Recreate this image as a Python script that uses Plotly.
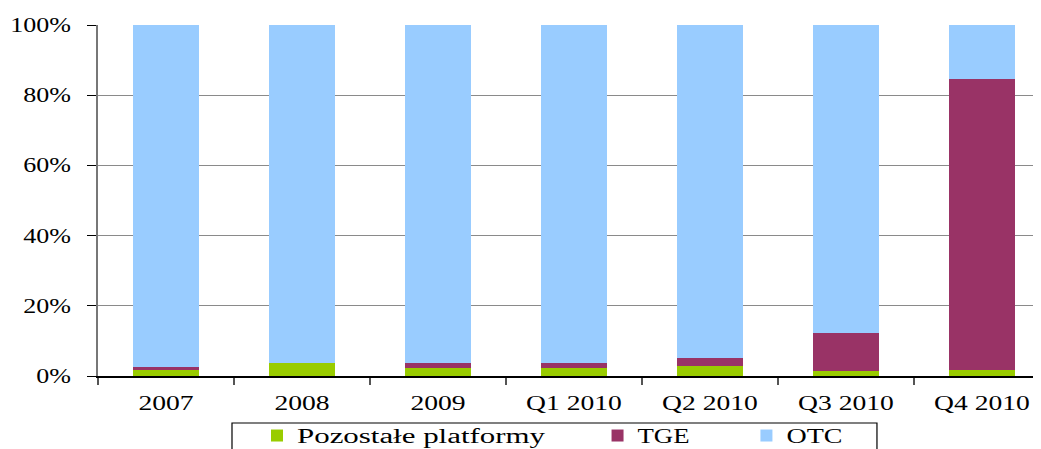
import plotly.graph_objects as go

# categories and shares (%)
periods = ['2007', '2008', '2009', 'Q1 2010', 'Q2 2010', 'Q3 2010', 'Q4 2010']
pozostale = [1.8, 3.8, 2.4, 2.4, 2.9, 1.4, 1.8]
tge = [0.8, 0.0, 1.4, 1.4, 2.3, 10.9, 82.8]
otc = [round(100 - a - b, 1) for a, b in zip(pozostale, tge)]
y_ticks = [0, 20, 40, 60, 80, 100]
y_labels = ['0%', '20%', '40%', '60%', '80%', '100%']

font = 'Liberation Serif, Times New Roman, serif'
nb = '\u00a0'  # padding so legend entries sit apart like in the original (trimmed in js)

fig = go.Figure()
fig.add_trace(go.Bar(x=periods, y=pozostale, name='Pozostałe platformy' + nb * 27,
                     marker=dict(color='#99CC00', line=dict(width=0)), width=0.485))
fig.add_trace(go.Bar(x=periods, y=tge, name='TGE' + nb * 13,
                     marker=dict(color='#993366', line=dict(width=0)), width=0.485))
fig.add_trace(go.Bar(x=periods, y=otc, name='OTC' + nb * 6,
                     marker=dict(color='#99CCFF', line=dict(width=0)), width=0.485))

# page has an 8px body margin, so the figure is shifted by 8px right/down
fig.update_layout(
    barmode='stack',
    width=1041, height=449,
    margin=dict(l=90, r=0, t=17, b=81, autoexpand=False),
    paper_bgcolor='white', plot_bgcolor='white',
    font=dict(family=font, size=20, color='black'),
    showlegend=True,
    legend=dict(orientation='h', x=0.1672, xanchor='left', y=-0.114, yanchor='top',
                borderwidth=0, bgcolor='rgba(0,0,0,0)',
                font=dict(family=font, size=20), itemwidth=30,
                traceorder='normal'),
    xaxis=dict(range=[-0.5, 6.493], showline=True, linecolor='black', linewidth=2,
               ticks='outside', tickson='boundaries', ticklen=7, tickcolor='#555',
               tickwidth=1.5, showgrid=False, ticklabelstandoff=8,
               tickfont=dict(family=font, size=20)),
    yaxis=dict(range=[0, 100], tickvals=y_ticks, ticktext=y_labels,
               showline=True, linecolor='#777', linewidth=2,
               ticks='outside', ticklen=9, tickcolor='black', tickwidth=1,
               showgrid=True, gridcolor='#8a8a8a', gridwidth=1,
               zeroline=False, ticklabelstandoff=12,
               tickfont=dict(family=font, size=20)),
)

# legend frame (runs off the bottom edge like in the original)
fig.add_shape(type='rect', xref='paper', yref='paper',
              x0=0.1409, x1=0.8191, y0=-0.1339, y1=-0.6,
              line=dict(color='black', width=1.2), fillcolor='rgba(0,0,0,0)', layer='below')

# the original text is drawn horizontally stretched
js = """
var gd = document.getElementById('{plot_id}');
var legendW = {'Pozostałe platformy': 248, 'TGE': 52, 'OTC': 56};
function stretch(sel, k) {
  gd.querySelectorAll(sel).forEach(function (t) {
    if (t.getAttribute('textLength')) return;
    var s = t.textContent.replace(/\\u00a0+$/, '');
    if (s !== t.textContent) t.textContent = s;
    var w = legendW[s] || t.getComputedTextLength() * k;
    t.setAttribute('textLength', w.toFixed(1));
    t.setAttribute('lengthAdjust', 'spacingAndGlyphs');
  });
}
function run() {
  stretch('.xtick text', 1.38);
  stretch('.ytick text', 1.3);
  stretch('.legendtext', 1.4);
}
run();
gd.on('plotly_afterplot', run);
"""

fig.write_html('out.html', post_script=js)
